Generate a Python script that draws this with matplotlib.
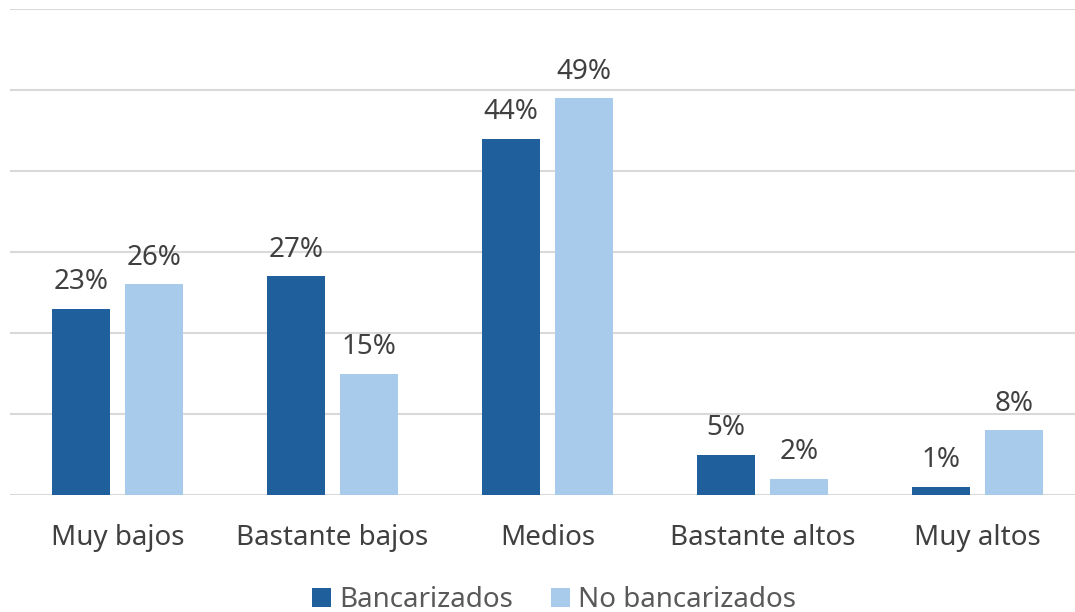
import numpy as np
import matplotlib
matplotlib.use('Agg')
import matplotlib.pyplot as plt

plt.rcParams['font.family'] = ['Noto Sans', 'DejaVu Sans']

categorias = ['Muy bajos', 'Bastante bajos', 'Medios', 'Bastante altos', 'Muy altos']
bancarizados = [23, 27, 44, 5, 1]
no_bancarizados = [26, 15, 49, 2, 8]
series = ['Bancarizados', 'No bancarizados']

c_oscuro = '#1f5f9b'
c_claro = '#a8cbec'
c_texto = '#404040'

fig = plt.figure(figsize=(10.75, 6.12), dpi=100)
# el area de trazado se sale un poco por la derecha, como en el original
ax = fig.add_axes([10/1075, 1-495/612, 1.0, (495-9)/612])

x = np.arange(len(categorias))
w = 0.268
sep = 0.07
b1 = ax.bar(x - (w+sep)/2, bancarizados, w, color=c_oscuro, label=series[0], zorder=3)
b2 = ax.bar(x + (w+sep)/2, no_bancarizados, w, color=c_claro, label=series[1], zorder=3)

for barras in (b1, b2):
    for b in barras:
        ax.annotate('%d%%' % round(b.get_height()), (b.get_x() + b.get_width()/2, b.get_height()),
                    xytext=(0, 9), textcoords='offset points', ha='center', va='bottom',
                    fontsize=20, color=c_texto)

ax.set_xlim(-0.5, len(categorias) - 0.5)
ax.set_ylim(0, 60)
ax.set_yticks(np.arange(0, 61, 10))
ax.yaxis.grid(True, color='#d9d9d9', linewidth=1.5, zorder=0)
ax.set_yticklabels([])
ax.tick_params(axis='y', length=0)
ax.tick_params(axis='x', length=0, pad=21, labelsize=20, labelcolor=c_texto)
ax.set_xticks(x)
ax.set_xticklabels(categorias)
for s in ax.spines.values():
    s.set_visible(False)

fig.legend(handles=[b1, b2], loc='center', bbox_to_anchor=(554/1075, 1-600/612), ncol=2, frameon=False,
           fontsize=20, labelcolor='#595959', handlelength=0.7, handleheight=0.7,
           handletextpad=0.3, columnspacing=1.35)

fig.savefig('out.png', dpi=100)
